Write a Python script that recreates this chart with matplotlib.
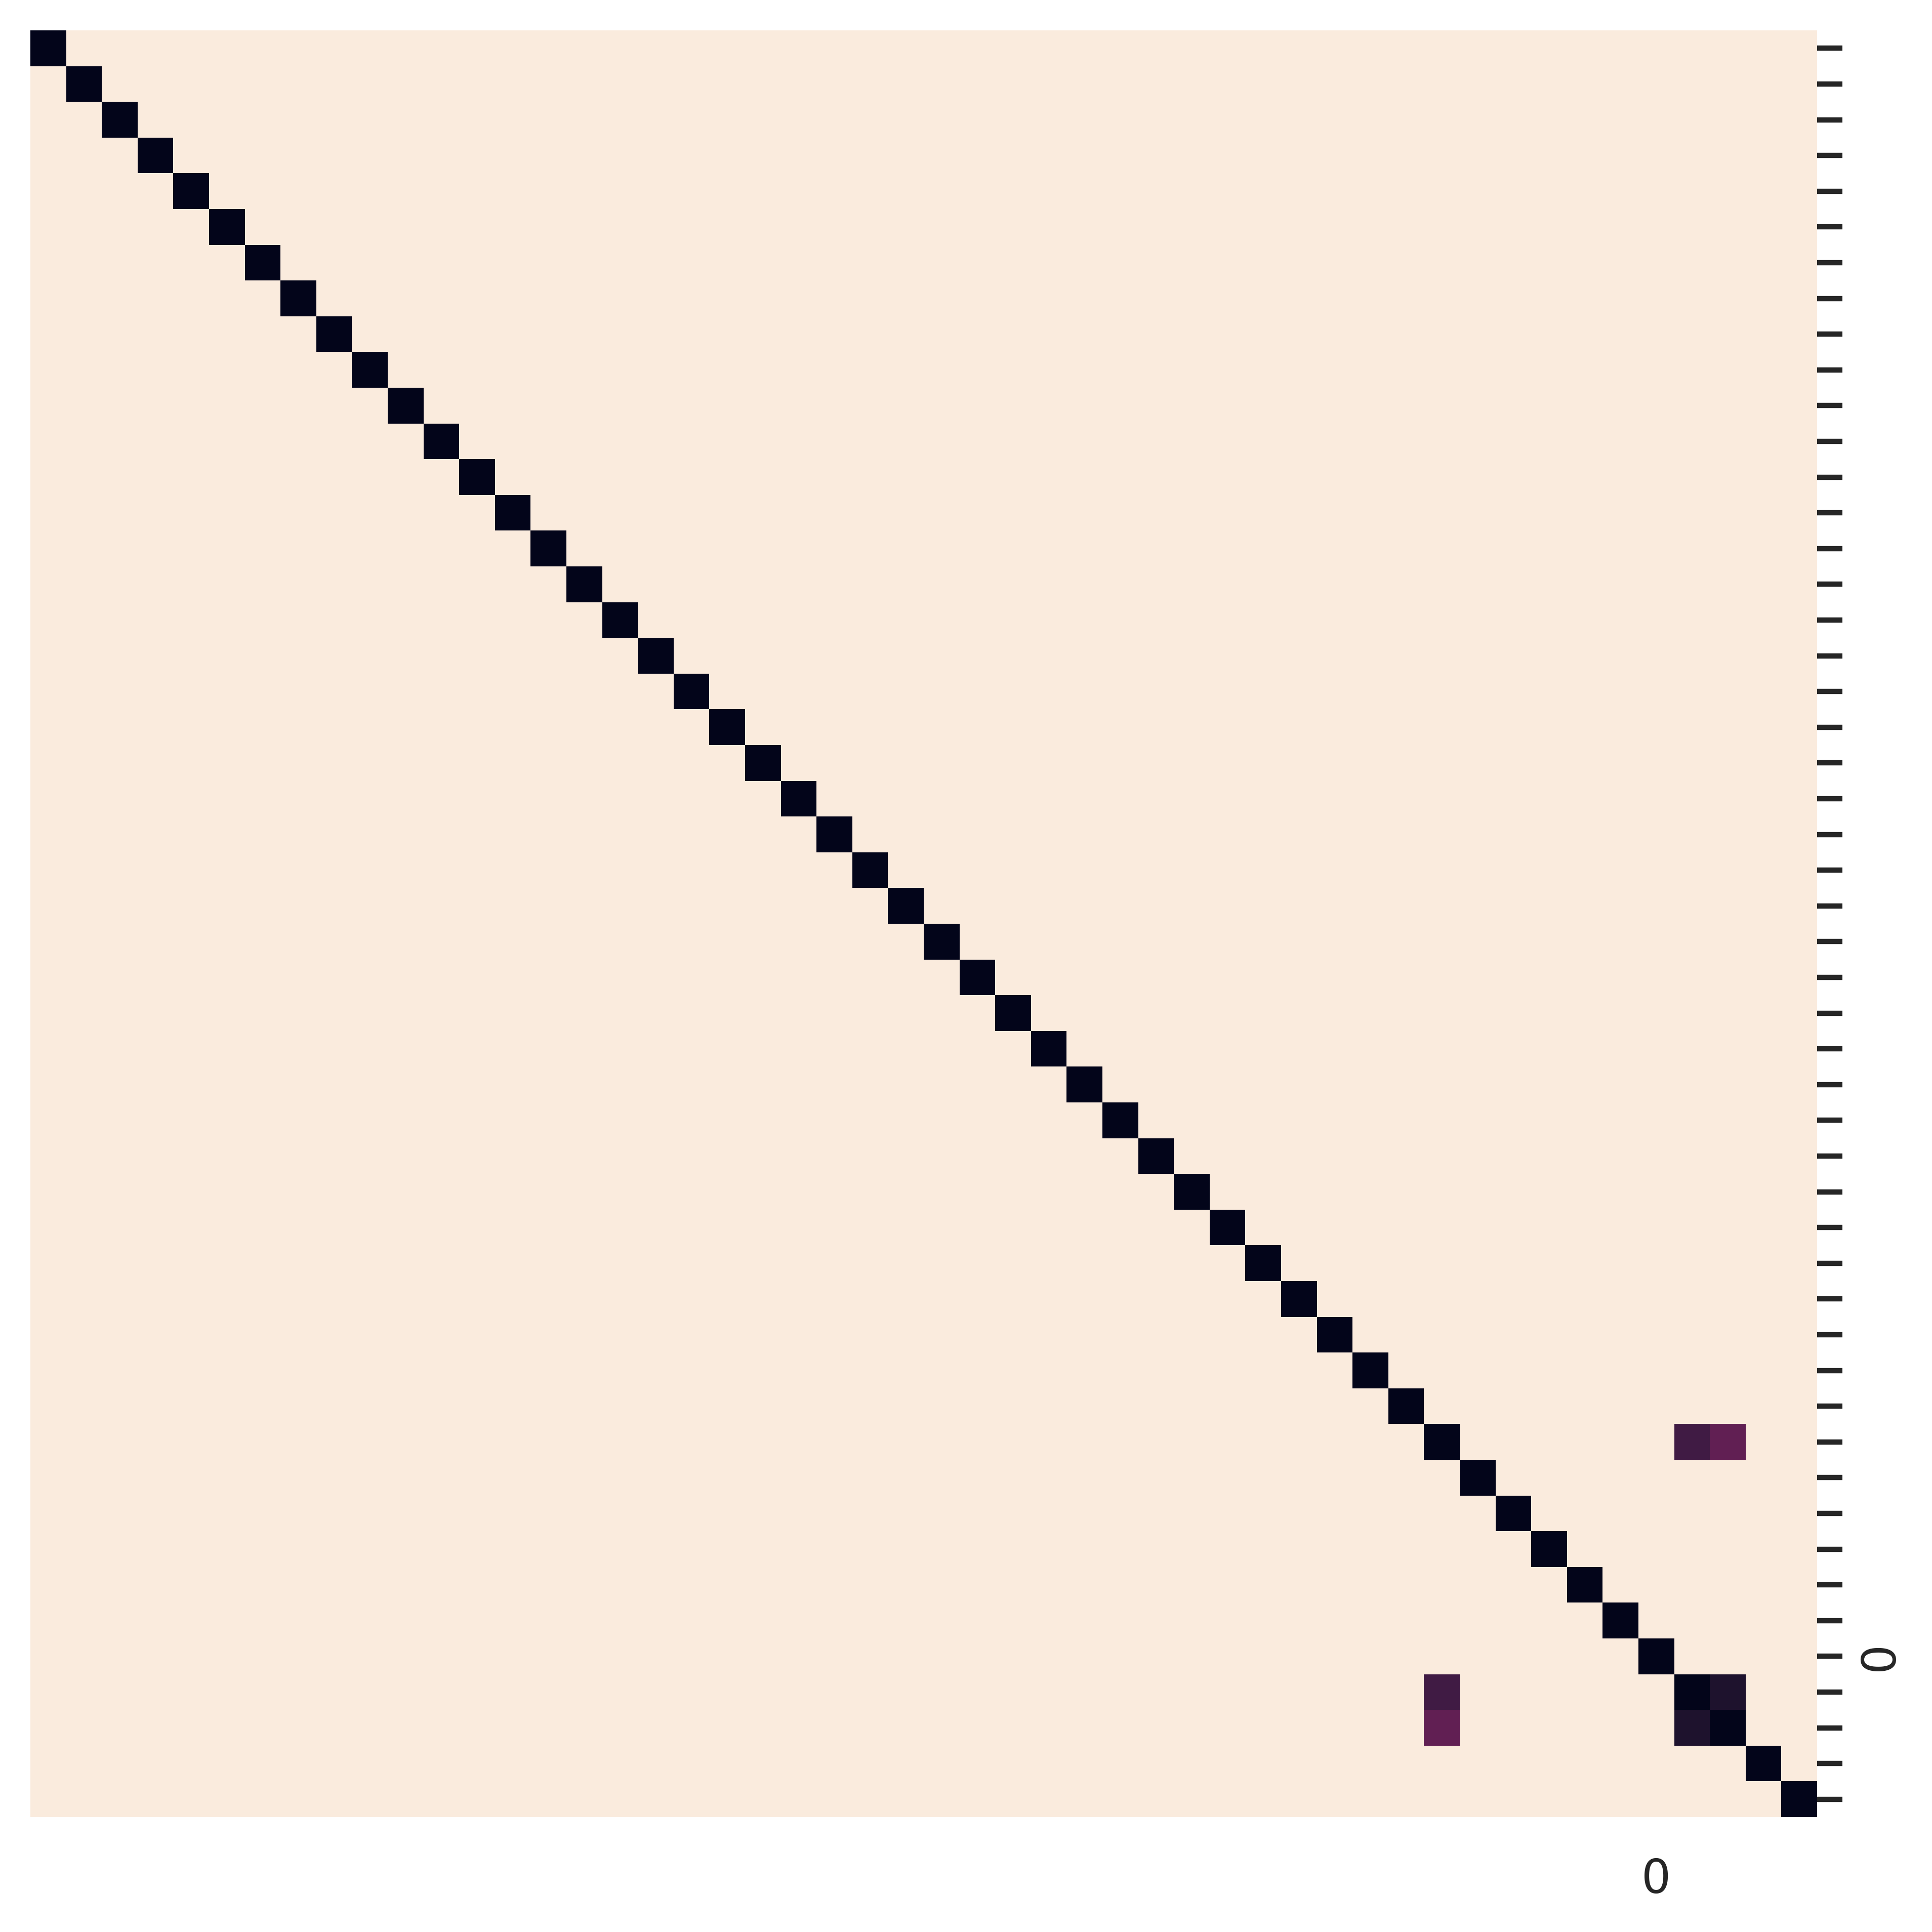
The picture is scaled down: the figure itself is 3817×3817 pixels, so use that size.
import numpy as np
import seaborn as sns
from matplotlib import pyplot as plt

# 50 x 50 distance-like matrix: 0 on the diagonal, 1 elsewhere,
# except for a few close pairs
n_items = 50
close_rows = [39, 39, 46]
close_cols = [46, 47, 47]
close_vals = [0.17, 0.25, 0.08]

label_row = 45
label_col = 45

mat = np.ones((n_items, n_items))
np.fill_diagonal(mat, 0.0)
for r, c, v in zip(close_rows, close_cols, close_vals):
    mat[r, c] = v
    mat[c, r] = v

xlabels = ['' for _ in range(n_items)]
ylabels = ['' for _ in range(n_items)]
xlabels[label_col] = '0'
ylabels[label_row] = '0'

sns.set_theme()
dpi = 600
fig = plt.figure(figsize=(3817 / dpi, 3817 / dpi), dpi=dpi)
ax = fig.add_axes([60 / 3817, 1 - 3590 / 3817, 3530 / 3817, 3530 / 3817])
sns.heatmap(mat, ax=ax, cmap='rocket', vmin=0, vmax=1, cbar=False,
            xticklabels=xlabels, yticklabels=ylabels, square=False)
ax.yaxis.tick_right()
plt.setp(ax.get_yticklabels(), rotation=90, va='center')
plt.setp(ax.get_xticklabels(), rotation=0)
fig.savefig('out.png', dpi=dpi, facecolor='white')
